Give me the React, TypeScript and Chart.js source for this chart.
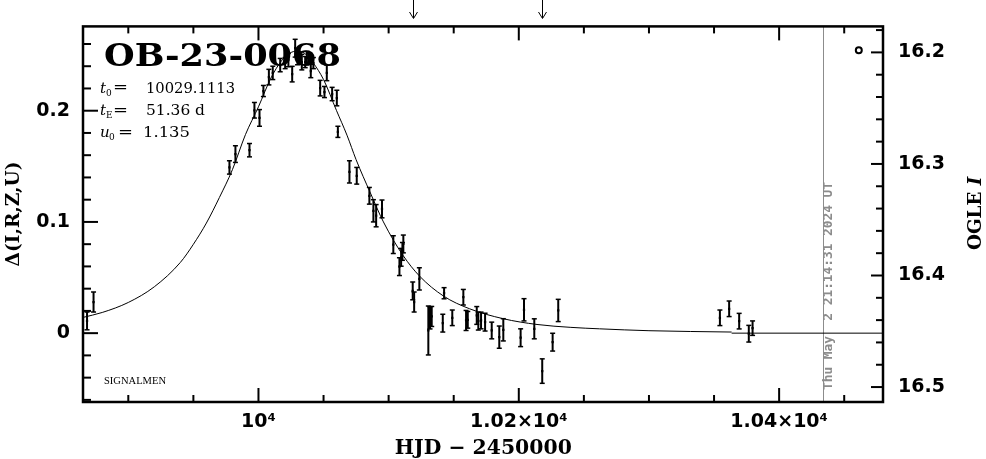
import { useEffect, useRef } from 'react';
import { Chart, registerables } from 'chart.js';

Chart.register(...registerables);

// ---------- data ----------
const HJD = [
  9868.3, 9873.3, 9977.7, 9982.3, 9993.1, 9996.9, 10000.8, 10003.8, 10008.0, 10011.0,
  10016.7, 10020.5, 10023.0, 10025.9, 10028.2, 10030.0, 10033.3, 10035.9, 10037.2, 10040.2,
  10042.2, 10047.4, 10050.7, 10052.5, 10056.6, 10060.2, 10061.0, 10069.9, 10075.5, 10085.2,
  10088.3, 10090.4, 10094.9, 10103.6, 10108.3, 10109.6, 10110.6, 10111.3, 10118.5, 10119.6,
  10123.6, 10130.5, 10131.8, 10133.1, 10141.6, 10142.6, 10148.9, 10157.4, 10159.5, 10160.8,
  10167.7, 10168.9, 10171.0, 10174.1, 10179.2, 10185.0, 10188.1, 10201.4, 10204.0, 10211.9,
  10218.0, 10226.0, 10230.3, 10354.5, 10361.6, 10369.3, 10376.7, 10379.6,
];
const DELTA = [
  0.011, 0.028, 0.149, 0.161, 0.1645, 0.2004, 0.1935, 0.2177, 0.2302, 0.234,
  0.241, 0.2428, 0.2455, 0.2329, 0.2562, 0.2473, 0.2437, 0.2437, 0.2473, 0.2357,
  0.2428, 0.2203, 0.2168, 0.234, 0.215, 0.2114, 0.181, 0.145, 0.1415, 0.1235,
  0.11, 0.1056, 0.1117, 0.0796, 0.0598, 0.0682, 0.0735, 0.0802, 0.038, 0.028,
  0.0488, 0.0024, 0.0138, 0.015, 0.009, 0.0359, 0.0138, 0.0323, 0.0114, 0.012,
  0.0159, 0.0108, 0.0114, 0.0099, 0.0024, -0.0036, 0.003, -0.0041, 0.021, 0.0039,
  -0.0341, -0.0081, 0.0204, 0.0138, 0.0219, 0.0108, -0.0005, 0.0045,
];
const ERR = [
  0.008, 0.009, 0.006, 0.0075, 0.006, 0.007, 0.0075, 0.005, 0.007, 0.006,
  0.006, 0.005, 0.006, 0.007, 0.008, 0.006, 0.007, 0.005, 0.006, 0.006,
  0.005, 0.007, 0.005, 0.007, 0.006, 0.007, 0.005, 0.01, 0.0075, 0.0075,
  0.01, 0.01, 0.008, 0.008, 0.008, 0.008, 0.008, 0.008, 0.008, 0.009,
  0.01, 0.022, 0.01, 0.009, 0.008, 0.005, 0.007, 0.007, 0.009, 0.0075,
  0.008, 0.008, 0.0075, 0.008, 0.0075, 0.01, 0.01, 0.008, 0.01, 0.009,
  0.011, 0.008, 0.01, 0.007, 0.007, 0.007, 0.0075, 0.0065,
];

const MODEL_HJD = [
  9865, 9880, 9900, 9920, 9940, 9950, 9960, 9970, 9980, 9990,
  10000, 10010, 10020, 10029, 10035, 10042, 10050, 10060, 10068, 10075,
  10086, 10096, 10111, 10124, 10142, 10162, 10188, 10214, 10240, 10262,
  10300, 10363.5,
];
const MODEL_DELTA = [
  0.0141, 0.0186, 0.0276, 0.0417, 0.0636, 0.0799, 0.099, 0.122, 0.147, 0.1785,
  0.2035, 0.2304, 0.2479, 0.2535, 0.252, 0.243, 0.228, 0.200, 0.178, 0.156,
  0.126, 0.100, 0.070, 0.051, 0.0335, 0.022, 0.013, 0.0078, 0.0052, 0.0039,
  0.0022, 0.001,
];
const BASELINE_HJD = [10363.5, 10479.8];
const BASELINE_DELTA = [0, 0];

const OGLE_SYMBOL_HJD = [10461.2];
const OGLE_SYMBOL_DELTA = [0.2544];

const ARROW_HJD = [10119, 10218];
const DATE_LINE_HJD = 10433.8;

const X_RANGE = [9865.2, 10479.8];
const Y_RANGE = [-0.0619, 0.2758];
const MAG_RANGE = [16.1767, 16.5134];

const X_TICK_LABELS: Record<number, string> = {
  10000: '10\u2074',
  10200: '1.02\u00d710\u2074',
  10400: '1.04\u00d710\u2074',
};
const Y_TICK_LABELS: Record<string, string> = { '0.0': '0', '0.1': '0.1', '0.2': '0.2' };
const MAG_TICK_LABELS: Record<string, string> = { '16.2': '16.2', '16.3': '16.3', '16.4': '16.4', '16.5': '16.5' };

const EVENT_NAME = 'OB-23-0068';
const PARAM_T0 = '10029.1113';
const PARAM_TE = '51.36 d';
const PARAM_U0 = '1.135';
const STAMP = 'Thu May  2 21:14:31 2024 UT';

// ---------- helpers ----------
const isMajor = (v: number, step: number) => Math.abs(v / step - Math.round(v / step)) < 1e-6;
const key1 = (v: number) => (Math.abs(v) < 1e-9 ? 0 : v).toFixed(1);

function line(ctx: CanvasRenderingContext2D, x1: number, y1: number, x2: number, y2: number) {
  ctx.beginPath();
  ctx.moveTo(x1, y1);
  ctx.lineTo(x2, y2);
  ctx.stroke();
}

function stretched(
  ctx: CanvasRenderingContext2D,
  parts: { text: string; font: string }[],
  cx: number,
  cy: number,
  width: number,
  rot: number,
  color = '#000',
) {
  ctx.save();
  let total = 0;
  const ws = parts.map((p) => {
    ctx.font = p.font;
    const w = ctx.measureText(p.text).width;
    total += w;
    return w;
  });
  ctx.translate(cx, cy);
  if (rot) ctx.rotate(rot);
  ctx.scale(width / total, 1);
  ctx.fillStyle = color;
  ctx.textBaseline = 'middle';
  ctx.textAlign = 'left';
  let x = -total / 2;
  parts.forEach((p, i) => {
    ctx.font = p.font;
    ctx.fillText(p.text, x, 0);
    x += ws[i];
  });
  ctx.restore();
}

function textAt(ctx: CanvasRenderingContext2D, text: string, font: string, x: number, base: number, width?: number) {
  ctx.save();
  ctx.font = font;
  ctx.textBaseline = 'alphabetic';
  ctx.textAlign = 'left';
  ctx.translate(x, base);
  if (width) ctx.scale(width / ctx.measureText(text).width, 1);
  ctx.fillText(text, 0, 0);
  ctx.restore();
}

const decor = {
  id: 'decor',
  beforeDatasetsDraw(chart: any) {
    const { ctx, chartArea: a, scales } = chart;
    const px = scales.x.getPixelForValue(DATE_LINE_HJD);
    ctx.save();
    ctx.strokeStyle = '#8c8c8c';
    ctx.lineWidth = 1;
    line(ctx, Math.round(px) + 0.5, a.top, Math.round(px) + 0.5, a.bottom);
    ctx.restore();
    stretched(ctx, [{ text: STAMP, font: 'bold 12px "DejaVu Sans Mono"' }], px + 5.5, 286, 208, -Math.PI / 2, '#8c8c8c');
  },
  afterDatasetsDraw(chart: any) {
    const { ctx, chartArea: a, scales } = chart;
    const x = scales.x;
    const y = scales.y;
    const y2 = scales.y2;
    ctx.save();
    ctx.strokeStyle = '#000';
    ctx.fillStyle = '#000';

    // error bars
    for (let i = 0; i < HJD.length; i++) {
      const p = x.getPixelForValue(HJD[i]);
      const t = y.getPixelForValue(DELTA[i] + ERR[i]);
      const b = y.getPixelForValue(DELTA[i] - ERR[i]);
      ctx.lineWidth = 2;
      line(ctx, p, t, p, b);
      ctx.lineWidth = 1.5;
      line(ctx, p - 2.5, t, p + 2.5, t);
      line(ctx, p - 2.5, b, p + 2.5, b);
    }

    // frame
    ctx.lineWidth = 2.5;
    ctx.strokeRect(a.left, a.top, a.right - a.left, a.bottom - a.top);

    // ticks
    ctx.lineWidth = 2;
    x.ticks.forEach((tk: any) => {
      const p = x.getPixelForValue(tk.value);
      const maj = X_TICK_LABELS[tk.value] !== undefined;
      const len = maj ? 14 : 7;
      line(ctx, p, a.bottom, p, a.bottom - len);
      line(ctx, p, a.top, p, a.top + len);
    });
    y.ticks.forEach((tk: any) => {
      const p = y.getPixelForValue(tk.value);
      const len = isMajor(tk.value, 0.1) ? 15 : 8;
      line(ctx, a.left, p, a.left + len, p);
    });
    y2.ticks.forEach((tk: any) => {
      const p = y2.getPixelForValue(tk.value);
      const len = isMajor(tk.value, 0.1) ? 12 : 7;
      line(ctx, a.right, p, a.right - len, p);
    });

    // arrows above the plot
    ctx.lineWidth = 1;
    ARROW_HJD.forEach((h) => {
      const p = Math.round(x.getPixelForValue(h)) + 0.5;
      line(ctx, p, 0, p, 18);
      ctx.beginPath();
      ctx.moveTo(p - 4, 12);
      ctx.lineTo(p, 18.5);
      ctx.lineTo(p + 4, 12);
      ctx.stroke();
    });

    // event name
    textAt(ctx, EVENT_NAME, 'bold 32px "DejaVu Serif"', 104, 66, 237);

    // parameters
    const it = 'italic 15px "DejaVu Serif"';
    const rm = '14px "DejaVu Serif"';
    const sb = '9px "DejaVu Serif"';
    const rows = [
      { sym: 't', sub: '0', subX: 106, eqX: 113, val: PARAM_T0, valX: 146, valW: 89, base: 92.7 },
      { sym: 't', sub: 'E', subX: 106, eqX: 113, val: PARAM_TE, valX: 146, valW: 59, base: 115 },
      { sym: 'u', sub: '0', subX: 109, eqX: 118, val: PARAM_U0, valX: 143, valW: 47, base: 137.3 },
    ];
    rows.forEach((r) => {
      textAt(ctx, r.sym, it, 100, r.base);
      textAt(ctx, r.sub, sb, r.subX, r.base + 3);
      textAt(ctx, '=', rm, r.eqX, r.base - 0.5, 15);
      textAt(ctx, r.val, rm, r.valX, r.base, r.valW);
    });

    textAt(ctx, 'SIGNALMEN', '10px "Liberation Serif"', 104, 383.5, 62);

    // axis titles
    stretched(ctx, [{ text: 'HJD \u2212 2450000', font: 'bold 20px "DejaVu Serif"' }], 483.3, 449, 177, 0);
    stretched(ctx, [{ text: '\u0394(I,R,Z,U)', font: 'bold 18px "DejaVu Serif"' }], 14, 214, 105, -Math.PI / 2);
    stretched(
      ctx,
      [
        { text: 'OGLE ', font: 'bold 18px "DejaVu Serif"' },
        { text: 'I', font: 'bold italic 18px "DejaVu Serif"' },
      ],
      976.7,
      213.3,
      73.3,
      -Math.PI / 2,
    );
    ctx.restore();
  },
};

const tickFont = { family: '"DejaVu Sans"', size: 19, weight: 'bold' as const };

export default function App() {
  const ref = useRef<HTMLCanvasElement>(null);
  useEffect(() => {
    const chart = new Chart(ref.current as HTMLCanvasElement, {
      type: 'scatter',
      data: {
        datasets: [
          {
            type: 'line',
            data: MODEL_HJD.map((h, i) => ({ x: h, y: MODEL_DELTA[i] })),
            borderColor: '#000',
            borderWidth: 1,
            pointRadius: 0,
            cubicInterpolationMode: 'monotone',
            fill: false,
          } as any,
          {
            type: 'line',
            data: BASELINE_HJD.map((h, i) => ({ x: h, y: BASELINE_DELTA[i] })),
            borderColor: '#000',
            borderWidth: 1,
            pointRadius: 0,
            fill: false,
          } as any,
          {
            data: HJD.map((h, i) => ({ x: h, y: DELTA[i] })),
            pointRadius: 1.6,
            pointStyle: 'rect',
            backgroundColor: '#000',
            borderColor: '#000',
            borderWidth: 0,
          },
          {
            data: OGLE_SYMBOL_HJD.map((h, i) => ({ x: h, y: OGLE_SYMBOL_DELTA[i] })),
            pointRadius: 3,
            pointStyle: 'circle',
            backgroundColor: 'rgba(0,0,0,0)',
            borderColor: '#000',
            borderWidth: 2,
          },
        ],
      },
      options: {
        animation: false,
        responsive: false,
        maintainAspectRatio: false,
        events: [],
        layout: { padding: { top: 26, left: 0, right: 0, bottom: 0 } },
        plugins: { legend: { display: false }, tooltip: { enabled: false }, title: { display: false } },
        scales: {
          x: {
            type: 'linear',
            position: 'bottom',
            min: X_RANGE[0],
            max: X_RANGE[1],
            grid: { display: false, drawTicks: false },
            border: { display: false },
            ticks: {
              stepSize: 50,
              autoSkip: false,
              maxRotation: 0,
              includeBounds: false,
              padding: 9,
              color: '#000',
              font: tickFont,
              callback: (v: any) => X_TICK_LABELS[Number(v)] ?? '',
            },
            afterFit: (s: any) => {
              s.height = 57;
            },
          },
          y: {
            type: 'linear',
            position: 'left',
            min: Y_RANGE[0],
            max: Y_RANGE[1],
            grid: { display: false, drawTicks: false },
            border: { display: false },
            ticks: {
              stepSize: 0.02,
              autoSkip: false,
              includeBounds: false,
              padding: 13,
              color: '#000',
              font: tickFont,
              callback: (v: any) => (isMajor(Number(v), 0.1) ? Y_TICK_LABELS[key1(Number(v))] ?? '' : ''),
            },
            afterFit: (s: any) => {
              s.width = 83;
            },
          },
          y2: {
            type: 'linear',
            position: 'right',
            reverse: true,
            min: MAG_RANGE[0],
            max: MAG_RANGE[1],
            grid: { display: false, drawTicks: false },
            border: { display: false },
            ticks: {
              stepSize: 0.02,
              autoSkip: false,
              includeBounds: false,
              padding: 15,
              color: '#000',
              font: tickFont,
              callback: (v: any) => (isMajor(Number(v), 0.1) ? MAG_TICK_LABELS[key1(Number(v))] ?? '' : ''),
            },
            afterFit: (s: any) => {
              s.width = 103;
            },
          },
        },
      },
      plugins: [decor],
    });
    return () => chart.destroy();
  }, []);
  return (
    <div style={{ position: 'fixed', left: 0, top: 0, width: 986, height: 459, background: '#fff' }}>
      <canvas ref={ref} width={986} height={459} style={{ display: 'block', width: 986, height: 459 }} />
    </div>
  );
}
